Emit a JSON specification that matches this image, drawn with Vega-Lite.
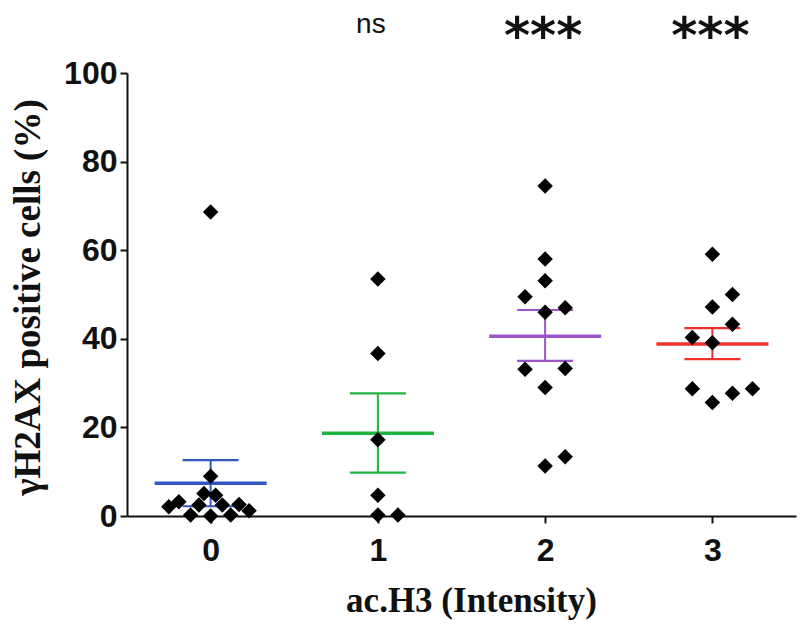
{
  "$schema": "https://vega.github.io/schema/vega-lite/v6.json",
  "width": 669,
  "height": 443,
  "autosize": {"type": "none"},
  "padding": {"left": 127, "top": 73, "right": 4, "bottom": 111},
  "background": "white",
  "config": {
    "view": {"stroke": null},
    "axis": {
      "grid": false,
      "domainColor": "#111111",
      "domainWidth": 2,
      "tickColor": "#111111",
      "tickWidth": 2,
      "tickSize": 7,
      "labelColor": "#111111",
      "titleColor": "#111111",
      "labelFont": "Liberation Sans",
      "labelFontWeight": "bold",
      "labelFontSize": 32,
      "titleFont": "Liberation Serif",
      "titleFontWeight": "bold",
      "titleFontSize": 35
    }
  },
  "datasets": {
    "points": [
      {"ac": 0, "pos": 0, "pct": 68.6},
      {"ac": 0, "pos": 0, "pct": 9.0},
      {"ac": 0, "pos": -0.04, "pct": 5.1},
      {"ac": 0, "pos": 0.03, "pct": 4.7},
      {"ac": 0, "pos": -0.19, "pct": 3.2},
      {"ac": 0, "pos": -0.25, "pct": 2.1},
      {"ac": 0, "pos": -0.07, "pct": 2.5},
      {"ac": 0, "pos": 0.07, "pct": 2.5},
      {"ac": 0, "pos": 0.17, "pct": 2.6},
      {"ac": 0, "pos": 0.23, "pct": 1.2},
      {"ac": 0, "pos": -0.12, "pct": 0.2},
      {"ac": 0, "pos": 0, "pct": 0},
      {"ac": 0, "pos": 0.12, "pct": 0.2},
      {"ac": 1, "pos": 1, "pct": 53.5},
      {"ac": 1, "pos": 1, "pct": 36.7},
      {"ac": 1, "pos": 1, "pct": 17.2},
      {"ac": 1, "pos": 1, "pct": 4.7},
      {"ac": 1, "pos": 1, "pct": 0.2},
      {"ac": 1, "pos": 1.12, "pct": 0.2},
      {"ac": 2, "pos": 2, "pct": 74.5},
      {"ac": 2, "pos": 2, "pct": 58.0},
      {"ac": 2, "pos": 2, "pct": 53.1},
      {"ac": 2, "pos": 1.88, "pct": 49.5},
      {"ac": 2, "pos": 2.12, "pct": 47.0},
      {"ac": 2, "pos": 2, "pct": 46.0},
      {"ac": 2, "pos": 1.88, "pct": 33.1},
      {"ac": 2, "pos": 2.12, "pct": 33.3},
      {"ac": 2, "pos": 2, "pct": 29.0},
      {"ac": 2, "pos": 2, "pct": 11.3},
      {"ac": 2, "pos": 2.12, "pct": 13.4},
      {"ac": 3, "pos": 3, "pct": 59.1},
      {"ac": 3, "pos": 3.12, "pct": 50.0},
      {"ac": 3, "pos": 3, "pct": 47.2},
      {"ac": 3, "pos": 3.12, "pct": 43.3},
      {"ac": 3, "pos": 2.88, "pct": 40.3},
      {"ac": 3, "pos": 3, "pct": 39.1},
      {"ac": 3, "pos": 2.88, "pct": 28.7},
      {"ac": 3, "pos": 3, "pct": 25.6},
      {"ac": 3, "pos": 3.12, "pct": 27.7},
      {"ac": 3, "pos": 3.24, "pct": 28.7}
    ],
    "stats": [
      {"ac": 0, "mean": 7.4, "lo": 2.2, "hi": 12.6},
      {"ac": 1, "mean": 18.7, "lo": 9.8, "hi": 27.7},
      {"ac": 2, "mean": 40.6, "lo": 35.0, "hi": 46.5},
      {"ac": 3, "mean": 38.8, "lo": 35.4, "hi": 42.4}
    ],
    "ns": [{"ac": 1, "label": "ns"}],
    "stars": [{"ac": 2, "label": "***"}, {"ac": 3, "label": "***"}]
  },
  "layer": [
    {
      "data": {"name": "stats"},
      "mark": {"type": "rule", "strokeWidth": 2, "opacity": 1},
      "encoding": {
        "x": {"field": "ac", "type": "quantitative", "scale": {"domain": [-0.5, 3.5], "nice": false, "zero": false},
              "axis": {"values": [0, 1, 2, 3], "format": "d", "title": "ac.H3 (Intensity)", "labelPadding": 12, "titleX": 344, "titleY": 84, "titleBaseline": "middle"}},
        "y": {"field": "lo", "type": "quantitative", "scale": {"domain": [0, 100], "nice": false},
              "axis": {"values": [0, 20, 40, 60, 80, 100], "title": "γH2AX positive cells (%)", "titleFontSize": 37, "labelPadding": 3, "titleX": -99, "titleY": 224, "titleAngle": -90, "titleAlign": "center", "titleBaseline": "middle"}},
        "y2": {"field": "hi"},
        "color": {"field": "ac", "type": "nominal", "scale": {"domain": [0, 1, 2, 3], "range": ["#3456c4", "#22b343", "#9c54c8", "#f0302c"]}, "legend": null}
      }
    },
    {
      "data": {"name": "stats"},
      "mark": {"type": "tick", "orient": "horizontal", "thickness": 3.5, "size": 112, "opacity": 1},
      "encoding": {
        "x": {"field": "ac", "type": "quantitative"},
        "y": {"field": "mean", "type": "quantitative"},
        "color": {"field": "ac", "type": "nominal", "legend": null}
      }
    },
    {
      "data": {"name": "stats"},
      "mark": {"type": "tick", "orient": "horizontal", "thickness": 2.2, "size": 56, "opacity": 1},
      "encoding": {
        "x": {"field": "ac", "type": "quantitative"},
        "y": {"field": "hi", "type": "quantitative"},
        "color": {"field": "ac", "type": "nominal", "legend": null}
      }
    },
    {
      "data": {"name": "stats"},
      "mark": {"type": "tick", "orient": "horizontal", "thickness": 2.2, "size": 56, "opacity": 1},
      "encoding": {
        "x": {"field": "ac", "type": "quantitative"},
        "y": {"field": "lo", "type": "quantitative"},
        "color": {"field": "ac", "type": "nominal", "legend": null}
      }
    },
    {
      "data": {"name": "points"},
      "mark": {"type": "point", "shape": "diamond", "filled": true, "size": 240, "color": "#000000", "opacity": 1},
      "encoding": {
        "x": {"field": "pos", "type": "quantitative"},
        "y": {"field": "pct", "type": "quantitative"}
      }
    },
    {
      "data": {"name": "ns"},
      "mark": {"type": "text", "font": "Liberation Sans", "fontSize": 28, "baseline": "alphabetic", "align": "center", "dx": -7, "color": "#111111"},
      "encoding": {
        "x": {"field": "ac", "type": "quantitative"},
        "y": {"datum": 109},
        "text": {"field": "label"}
      }
    },
    {
      "data": {"name": "stars"},
      "mark": {"type": "text", "font": "DejaVu Sans", "fontWeight": "bold", "fontSize": 50, "baseline": "alphabetic", "align": "center", "dx": -2, "color": "#111111"},
      "encoding": {
        "x": {"field": "ac", "type": "quantitative"},
        "y": {"datum": 104.5},
        "text": {"field": "label"}
      }
    }
  ]
}
